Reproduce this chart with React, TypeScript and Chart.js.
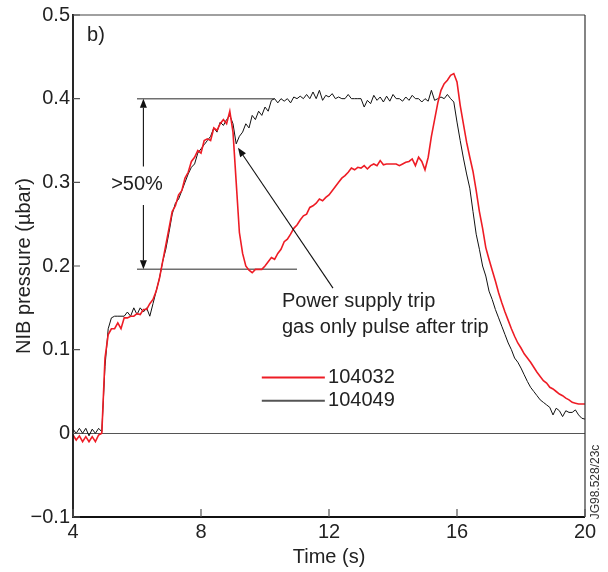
import React, { useEffect, useRef } from 'react';
import { Chart, registerables } from 'chart.js';
Chart.register(...registerables);

const TIME = [
  4.0, 4.1, 4.2, 4.3, 4.4, 4.5, 4.6, 4.7, 4.8, 4.9,
  5.0, 5.1, 5.2, 5.3, 5.4, 5.5, 5.6, 5.7, 5.8, 5.9,
  6.0, 6.1, 6.2, 6.3, 6.4, 6.5, 6.6, 6.7, 6.8, 6.9,
  7.0, 7.1, 7.2, 7.3, 7.4, 7.5, 7.6, 7.7, 7.8, 7.9,
  8.0, 8.1, 8.2, 8.3, 8.4, 8.5, 8.6, 8.7, 8.8, 8.9,
  9.0, 9.1, 9.2, 9.3, 9.4, 9.5, 9.6, 9.7, 9.8, 9.9,
  10.0, 10.1, 10.2, 10.3, 10.4, 10.5, 10.6, 10.7, 10.8, 10.9,
  11.0, 11.1, 11.2, 11.3, 11.4, 11.5, 11.6, 11.7, 11.8, 11.9,
  12.0, 12.1, 12.2, 12.3, 12.4, 12.5, 12.6, 12.7, 12.8, 12.9,
  13.0, 13.1, 13.2, 13.3, 13.4, 13.5, 13.6, 13.7, 13.8, 13.9,
  14.0, 14.1, 14.2, 14.3, 14.4, 14.5, 14.6, 14.7, 14.8, 14.9,
  15.0, 15.1, 15.2, 15.3, 15.4, 15.5, 15.6, 15.7, 15.8, 15.9,
  16.0, 16.1, 16.2, 16.3, 16.4, 16.5, 16.6, 16.7, 16.8, 16.9,
  17.0, 17.1, 17.2, 17.3, 17.4, 17.5, 17.6, 17.7, 17.8, 17.9,
  18.0, 18.1, 18.2, 18.3, 18.4, 18.5, 18.6, 18.7, 18.8, 18.9,
  19.0, 19.1, 19.2, 19.3, 19.4, 19.5, 19.6, 19.7, 19.8, 19.9,
  20.0,
];

// shot 104032 (red)
const SHOT_104032 = [
  -0.002, -0.008, -0.003, -0.010, -0.004, -0.010, -0.004, -0.010, -0.002, 0.000,
  0.090, 0.118, 0.125, 0.125, 0.132, 0.125, 0.138, 0.138, 0.140, 0.140,
  0.143, 0.142, 0.148, 0.148, 0.155, 0.160, 0.170, 0.185, 0.205, 0.225,
  0.245, 0.265, 0.272, 0.285, 0.290, 0.305, 0.312, 0.325, 0.330, 0.338,
  0.335, 0.350, 0.352, 0.350, 0.365, 0.362, 0.370, 0.375, 0.370, 0.385,
  0.360, 0.300, 0.240, 0.215, 0.200, 0.195, 0.192, 0.196, 0.196, 0.196,
  0.200, 0.205, 0.210, 0.208, 0.215, 0.220, 0.229, 0.232, 0.238, 0.245,
  0.249, 0.255, 0.260, 0.262, 0.270, 0.272, 0.275, 0.280, 0.278, 0.282,
  0.285, 0.290, 0.295, 0.300, 0.305, 0.308, 0.312, 0.317, 0.315, 0.318,
  0.317, 0.320, 0.316, 0.320, 0.322, 0.320, 0.326, 0.321, 0.322, 0.322,
  0.322, 0.322, 0.320, 0.322, 0.324, 0.325, 0.328, 0.320, 0.330, 0.325,
  0.315, 0.330, 0.355, 0.375, 0.395, 0.410, 0.418, 0.422, 0.428, 0.430,
  0.420, 0.392, 0.370, 0.348, 0.330, 0.313, 0.290, 0.265, 0.245, 0.222,
  0.208, 0.195, 0.182, 0.168, 0.156, 0.145, 0.135, 0.125, 0.116, 0.108,
  0.102, 0.095, 0.090, 0.085, 0.079, 0.073, 0.068, 0.063, 0.060, 0.055,
  0.053, 0.050, 0.047, 0.045, 0.042, 0.040, 0.037, 0.036, 0.035, 0.035,
  0.035,
];

// shot 104049 (black)
const SHOT_104049 = [
  0.005, 0.000, 0.006, 0.000, 0.006, -0.003, 0.005, 0.000, 0.006, 0.002,
  0.080, 0.125, 0.138, 0.140, 0.140, 0.140, 0.140, 0.145, 0.140, 0.150,
  0.142, 0.150, 0.145, 0.150, 0.140, 0.155, 0.170, 0.185, 0.205, 0.220,
  0.240, 0.262, 0.275, 0.280, 0.290, 0.300, 0.310, 0.318, 0.322, 0.335,
  0.340, 0.345, 0.350, 0.355, 0.365, 0.360, 0.372, 0.368, 0.375, 0.380,
  0.370, 0.346, 0.355, 0.360, 0.370, 0.365, 0.380, 0.375, 0.385, 0.380,
  0.390, 0.385, 0.398, 0.400, 0.395, 0.400, 0.397, 0.400, 0.395, 0.402,
  0.400, 0.403, 0.400, 0.405, 0.400, 0.408, 0.400, 0.410, 0.398, 0.404,
  0.402, 0.406, 0.400, 0.402, 0.400, 0.400, 0.405, 0.400, 0.400, 0.400,
  0.400, 0.390, 0.398, 0.394, 0.404, 0.398, 0.402, 0.396, 0.403, 0.397,
  0.405, 0.400, 0.400, 0.397, 0.402, 0.398, 0.404, 0.400, 0.400, 0.396,
  0.400, 0.397, 0.410, 0.398, 0.400, 0.402, 0.400, 0.405, 0.400, 0.396,
  0.372, 0.350, 0.329, 0.310, 0.293, 0.265, 0.238, 0.220, 0.200, 0.188,
  0.170, 0.160, 0.148, 0.138, 0.128, 0.118, 0.108, 0.100, 0.090, 0.085,
  0.078, 0.070, 0.062, 0.055, 0.050, 0.045, 0.040, 0.037, 0.034, 0.031,
  0.022, 0.030, 0.027, 0.020, 0.027, 0.025, 0.025, 0.028, 0.022, 0.018,
  0.017,
];

const X_TICKS = [4, 8, 12, 16, 20];
const Y_TICKS = [-0.1, 0, 0.1, 0.2, 0.3, 0.4, 0.5];
const Y_TICK_LABELS = ['\u22120.1', '0', '0.1', '0.2', '0.3', '0.4', '0.5'];
const SERIES_NAMES = ['104032', '104049'];

const FONT = "'Liberation Sans', Arial, Helvetica, sans-serif";

function arrow(ctx: CanvasRenderingContext2D, x1: number, y1: number, x2: number, y2: number) {
  const ang = Math.atan2(y2 - y1, x2 - x1);
  const len = 9;
  const hw = 3.5;
  const bx = x2 - len * Math.cos(ang);
  const by = y2 - len * Math.sin(ang);
  ctx.beginPath();
  ctx.moveTo(x1, y1);
  ctx.lineTo(bx, by);
  ctx.stroke();
  ctx.beginPath();
  ctx.moveTo(x2, y2);
  ctx.lineTo(bx + hw * Math.sin(ang), by - hw * Math.cos(ang));
  ctx.lineTo(bx - hw * Math.sin(ang), by + hw * Math.cos(ang));
  ctx.closePath();
  ctx.fill();
}

const decorPlugin = {
  id: 'decor',
  beforeDatasetsDraw(chart: any) {
    const { ctx, chartArea: a, scales } = chart;
    const x = scales.x, y = scales.y;
    ctx.save();
    // zero line
    ctx.strokeStyle = '#555';
    ctx.lineWidth = 1;
    ctx.beginPath();
    ctx.moveTo(a.left, Math.round(y.getPixelForValue(0)) + 0.5);
    ctx.lineTo(a.right, Math.round(y.getPixelForValue(0)) + 0.5);
    ctx.stroke();
    // reference levels
    ctx.strokeStyle = '#707070';
    ctx.lineWidth = 1.5;
    ctx.beginPath();
    ctx.moveTo(x.getPixelForValue(6.0), y.getPixelForValue(0.4));
    ctx.lineTo(x.getPixelForValue(10.3), y.getPixelForValue(0.4));
    ctx.moveTo(x.getPixelForValue(6.0), y.getPixelForValue(0.196));
    ctx.lineTo(x.getPixelForValue(11.0), y.getPixelForValue(0.196));
    ctx.stroke();
    ctx.restore();
  },
  afterDraw(chart: any) {
    const { ctx, chartArea: a, scales } = chart;
    const x = scales.x, y = scales.y;
    ctx.save();
    // frame
    ctx.lineWidth = 1.5;
    ctx.strokeStyle = '#808080';
    ctx.beginPath();
    ctx.moveTo(a.left, a.top);
    ctx.lineTo(a.right, a.top);
    ctx.stroke();
    ctx.strokeStyle = '#333';
    ctx.lineWidth = 1.2;
    ctx.beginPath();
    ctx.moveTo(a.right, a.top);
    ctx.lineTo(a.right, a.bottom);
    ctx.stroke();
    ctx.strokeStyle = '#111';
    ctx.lineWidth = 1.8;
    ctx.beginPath();
    ctx.moveTo(a.left, a.top - 1);
    ctx.lineTo(a.left, a.bottom);
    ctx.lineTo(a.right, a.bottom);
    ctx.stroke();
    // inward ticks
    ctx.lineWidth = 1.2;
    ctx.strokeStyle = '#555';
    ctx.beginPath();
    for (const v of Y_TICKS) {
      const py = y.getPixelForValue(v);
      ctx.moveTo(a.left, py);
      ctx.lineTo(a.left + 7, py);
    }
    for (const v of X_TICKS) {
      const px = x.getPixelForValue(v);
      ctx.moveTo(px, a.bottom);
      ctx.lineTo(px, a.bottom - 8);
    }
    ctx.stroke();

    // arrows
    ctx.strokeStyle = '#111';
    ctx.fillStyle = '#111';
    ctx.lineWidth = 1.1;
    const xa = x.getPixelForValue(6.2);
    arrow(ctx, xa, y.getPixelForValue(0.319), xa, y.getPixelForValue(0.4));
    arrow(ctx, xa, y.getPixelForValue(0.273), xa, y.getPixelForValue(0.196));
    arrow(ctx, x.getPixelForValue(12.125), y.getPixelForValue(0.1735), x.getPixelForValue(9.156), y.getPixelForValue(0.3413));

    // texts
    ctx.fillStyle = '#222';
    ctx.font = `20px ${FONT}`;
    ctx.textBaseline = 'middle';
    ctx.textAlign = 'left';
    ctx.fillText('b)', x.getPixelForValue(4.44), y.getPixelForValue(0.476));
    ctx.textAlign = 'center';
    ctx.fillText('>50%', x.getPixelForValue(6.0), y.getPixelForValue(0.297));
    ctx.textAlign = 'left';
    ctx.fillText('Power supply trip', x.getPixelForValue(10.53), y.getPixelForValue(0.158));
    ctx.fillText('gas only pulse after trip', x.getPixelForValue(10.53), y.getPixelForValue(0.127));

    // legend
    const lx1 = x.getPixelForValue(9.9), lx2 = x.getPixelForValue(11.87), lt = x.getPixelForValue(11.97);
    const ly1 = y.getPixelForValue(0.0667), ly2 = y.getPixelForValue(0.039);
    ctx.lineWidth = 2;
    ctx.strokeStyle = '#ee1c25';
    ctx.beginPath();
    ctx.moveTo(lx1, ly1);
    ctx.lineTo(lx2, ly1);
    ctx.stroke();
    ctx.strokeStyle = '#555';
    ctx.beginPath();
    ctx.moveTo(lx1, ly2);
    ctx.lineTo(lx2, ly2);
    ctx.stroke();
    ctx.fillText(SERIES_NAMES[0], lt, ly1);
    ctx.fillText(SERIES_NAMES[1], lt, ly2);

    // figure id
    ctx.save();
    ctx.translate(596, 482);
    ctx.rotate(-Math.PI / 2);
    ctx.font = `12px ${FONT}`;
    ctx.textAlign = 'center';
    ctx.fillStyle = '#333';
    ctx.fillText('JG98.528/23c', 0, 0);
    ctx.restore();

    ctx.restore();
  },
};

export default function App() {
  const ref = useRef<HTMLCanvasElement | null>(null);
  useEffect(() => {
    document.body.style.margin = '0';
    const canvas = ref.current;
    if (!canvas) return;
    const chart = new Chart(canvas, {
      type: 'line',
      data: {
        datasets: [
          {
            label: SERIES_NAMES[0],
            data: TIME.map((t, i) => ({ x: t, y: SHOT_104032[i] })),
            borderColor: '#ee1c25',
            borderWidth: 1.6,
            pointRadius: 0,
            tension: 0,
            fill: false,
          },
          {
            label: SERIES_NAMES[1],
            data: TIME.map((t, i) => ({ x: t, y: SHOT_104049[i] })),
            borderColor: '#111',
            borderWidth: 1,
            pointRadius: 0,
            tension: 0,
            fill: false,
          },
        ],
      },
      options: {
        animation: false,
        responsive: false,
        maintainAspectRatio: false,
        layout: { padding: { top: 14, right: 23, left: 0, bottom: 0 } },
        plugins: { legend: { display: false }, tooltip: { enabled: false } },
        scales: {
          x: {
            type: 'linear',
            min: 4,
            max: 20,
            afterFit: (s: any) => { s.height = 55; },
            afterBuildTicks: (s: any) => { s.ticks = X_TICKS.map((v) => ({ value: v })); },
            grid: { display: false, drawTicks: false },
            border: { display: false },
            ticks: {
              padding: 3,
              color: '#222',
              font: { size: 20, family: FONT },
              maxRotation: 0,
              callback: (v: any) => String(v),
            },
            title: {
              display: true,
              text: 'Time (s)',
              color: '#222',
              font: { size: 20, family: FONT },
              padding: { top: 0, bottom: 3 },
            },
          },
          y: {
            type: 'linear',
            min: -0.1,
            max: 0.5,
            afterFit: (s: any) => { s.width = 73; },
            afterBuildTicks: (s: any) => { s.ticks = Y_TICKS.map((v) => ({ value: v })); },
            grid: { display: false, drawTicks: false },
            border: { display: false },
            ticks: {
              padding: 3,
              color: '#222',
              font: { size: 20, family: FONT },
              callback: (v: any) => {
                const i = Y_TICKS.findIndex((t) => Math.abs(t - v) < 1e-6);
                return i >= 0 ? Y_TICK_LABELS[i] : '';
              },
            },
            title: {
              display: true,
              text: 'NIB pressure (\u00b5bar)',
              color: '#222',
              font: { size: 20, family: FONT },
              padding: { top: 12, bottom: 0 },
            },
          },
        },
      },
      plugins: [decorPlugin],
    });
    return () => chart.destroy();
  }, []);
  return (
    <div style={{ width: 608, height: 572 }}>
      <canvas ref={ref} width={608} height={572} />
    </div>
  );
}
